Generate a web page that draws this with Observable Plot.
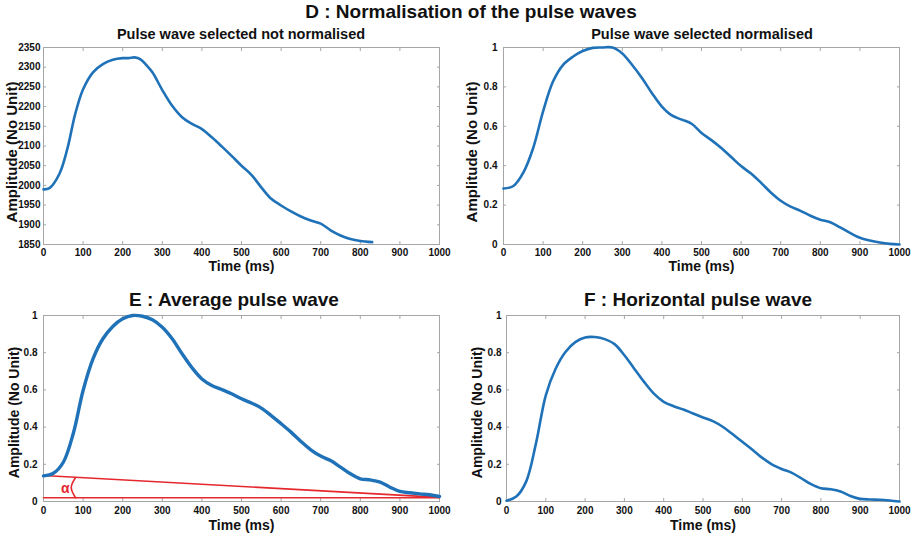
<!DOCTYPE html>
<html><head><meta charset="utf-8">
<script src="https://cdn.jsdelivr.net/npm/d3@7"></script>
<script src="https://cdn.jsdelivr.net/npm/@observablehq/plot@0.6"></script>
<style>
body{margin:0;background:#fff;}
#root{position:relative;width:922px;height:537px;overflow:hidden;font-family:"Liberation Sans",Arial,sans-serif;background:#fff;}
.t{position:absolute;font-weight:bold;color:#111;white-space:nowrap;transform:translateX(-50%);line-height:1;z-index:2;}
</style></head><body><div id="root"></div>
<script>
// ---- data ----
const xTicks = [0,100,200,300,400,500,600,700,800,900,1000];
const yTicksRaw = [1850,1900,1950,2000,2050,2100,2150,2200,2250,2300,2350];
const yTicksNorm = [0,0.2,0.4,0.6,0.8,1];

const rawT = [0,15,40,60,80,100,125,150,175,200,215,230,245,260,275,300,325,350,375,400,425,450,475,500,525,550,575,600,625,650,675,700,725,750,775,800,830];
const rawV = [1990,1993,2029,2092,2181,2244,2287,2308,2319,2323,2323,2325,2320,2305,2287,2242,2202,2173,2156,2143,2122,2099,2075,2050,2027,1995,1966,1949,1934,1921,1911,1903,1886,1873,1864,1859,1856];

const normT = [0,25,50,75,100,125,150,175,200,225,250,275,300,325,350,375,400,425,450,475,500,525,550,575,600,625,650,675,700,725,750,775,800,825,850,875,900,925,950,975,1000];
const normV = [0.284,0.297,0.365,0.49,0.676,0.827,0.911,0.953,0.982,0.998,1.0,1.0,0.97,0.911,0.844,0.768,0.70,0.655,0.634,0.613,0.566,0.53,0.49,0.444,0.398,0.36,0.314,0.264,0.222,0.192,0.171,0.146,0.126,0.113,0.087,0.059,0.034,0.02,0.01,0.003,0];

const avgT = normT;
const avgV = [0.138,0.152,0.211,0.364,0.597,0.767,0.875,0.941,0.982,1.0,0.996,0.977,0.937,0.875,0.794,0.719,0.659,0.624,0.602,0.579,0.552,0.53,0.502,0.462,0.418,0.373,0.323,0.278,0.244,0.22,0.185,0.149,0.122,0.116,0.104,0.077,0.054,0.047,0.041,0.036,0.027];

const horT = normT;
const horV = [0.004,0.027,0.107,0.3125,0.571,0.714,0.804,0.857,0.882,0.884,0.873,0.846,0.786,0.714,0.643,0.58,0.536,0.5125,0.495,0.473,0.452,0.432,0.402,0.3625,0.321,0.28,0.236,0.2,0.175,0.155,0.125,0.093,0.071,0.066,0.054,0.03,0.014,0.011,0.009,0.005,0];

const slopeT = [0,1000], slopeV = [0.14,0.022];
const baseT = [0,1000], baseV = [0.02,0.02];
const arcT = [81,70,81], arcV = [0.129,0.075,0.02];
const alphaT = [55], alphaV = [0.068], alphaLabel = ["α"];

// ---- helpers ----
const BLUE = "#1f72b8", RED = "#e5282d", GRID = "#a6a6a6";
const zip = (T, V) => T.map((t, i) => ({t, v: V[i]}));
const fmt = d => String(d);

function panel({data, yDomain, yTicks, left, top, width, height, mL, mR, mT, mB, lw, yLabelSize, yLabelDx, yLabelDy, xPad, yPad, timeDy, tickFont, extra = []}) {
  const marks = [
    Plot.frame({stroke: GRID}),
    Plot.axisX(xTicks, {anchor: "bottom", tickSize: -3, tickPadding: xPad, tickFormat: fmt, label: null, stroke: GRID, fill: "#111", fontSize: tickFont, fontWeight: "bold"}),
    Plot.axisX(xTicks, {anchor: "top", tickSize: -3, tickFormat: () => "", label: null, stroke: GRID}),
    Plot.axisY(yTicks, {anchor: "left", tickSize: -3, tickPadding: yPad, tickFormat: fmt, label: null, stroke: GRID, fill: "#111", fontSize: tickFont, fontWeight: "bold"}),
    Plot.axisY(yTicks, {anchor: "right", tickSize: -3, tickFormat: () => "", label: null, stroke: GRID}),
    ...extra,
    Plot.line(data, {x: "t", y: "v", stroke: BLUE, strokeWidth: lw, curve: "catmull-rom"}),
    Plot.text(["Time (ms)"], {frameAnchor: "bottom", lineAnchor: "middle", dy: timeDy, fontSize: 14, fontWeight: "bold", fill: "#111"}),
    Plot.text(["Amplitude (No Unit)"], {frameAnchor: "left", textAnchor: "middle", lineAnchor: "middle", rotate: -90, dx: yLabelDx, dy: yLabelDy, fontSize: yLabelSize, fontWeight: "bold", fill: "#111"})
  ];
  const svg = Plot.plot({
    width, height, marginLeft: mL, marginRight: mR, marginTop: mT, marginBottom: mB,
    x: {domain: [0, 1000]},
    y: {domain: yDomain},
    style: {fontFamily: "'Liberation Sans', Arial, sans-serif", overflow: "visible", background: "transparent"},
    marks
  });
  svg.style.position = "absolute";
  svg.style.left = left + "px";
  svg.style.top = top + "px";
  svg.style.background = "transparent";
  document.getElementById("root").appendChild(svg);
}

function title(text, cx, top, size) {
  const d = document.createElement("div");
  d.className = "t";
  d.textContent = text;
  d.style.left = cx + "px";
  d.style.top = top + "px";
  d.style.fontSize = size + "px";
  document.getElementById("root").appendChild(d);
}

panel({data: zip(rawT, rawV), yDomain: [1850, 2350], yTicks: yTicksRaw,
  left: 0, top: 40, width: 460, height: 240, mL: 43, mR: 21, mT: 7, mB: 36,
  lw: 2.6, yLabelSize: 15, yLabelDx: -31, yLabelDy: 6, xPad: 7, yPad: 6, timeDy: 22, tickFont: 10});

panel({data: zip(normT, normV), yDomain: [0, 1], yTicks: yTicksNorm,
  left: 460, top: 40, width: 462, height: 240, mL: 43, mR: 23, mT: 7, mB: 36,
  lw: 2.6, yLabelSize: 15, yLabelDx: -31, yLabelDy: 6, xPad: 7, yPad: 9, timeDy: 22, tickFont: 10});

panel({data: zip(avgT, avgV), yDomain: [0, 1], yTicks: yTicksNorm,
  left: 0, top: 308, width: 460, height: 229, mL: 43, mR: 21, mT: 7, mB: 36,
  lw: 3.4, yLabelSize: 14, yLabelDx: -29, yLabelDy: 4, xPad: 8.5, yPad: 9, timeDy: 24, tickFont: 10,
  extra: [
    Plot.line(zip(slopeT, slopeV), {x: "t", y: "v", stroke: RED, strokeWidth: 1.6}),
    Plot.line(zip(baseT, baseV), {x: "t", y: "v", stroke: RED, strokeWidth: 1.6}),
    Plot.line(zip(arcT, arcV), {x: "t", y: "v", stroke: RED, strokeWidth: 1.6, curve: "catmull-rom"}),
    Plot.text(alphaLabel.map((s, i) => ({s, t: alphaT[i], v: alphaV[i]})), {x: "t", y: "v", text: "s", fill: RED, fontSize: 14, fontWeight: "bold"})
  ]});

panel({data: zip(horT, horV), yDomain: [0, 1], yTicks: yTicksNorm,
  left: 460, top: 308, width: 462, height: 229, mL: 46, mR: 23, mT: 7, mB: 36,
  lw: 2.6, yLabelSize: 14, yLabelDx: -28.5, yLabelDy: 4, xPad: 8.5, yPad: 8, timeDy: 24, tickFont: 10});

title("D : Normalisation of the pulse waves", 471, 2, 19);
title("Pulse wave selected not normalised", 241, 27, 14.5);
title("Pulse wave selected normalised", 702, 27, 14.5);
title("E : Average pulse wave", 234, 290, 19);
title("F : Horizontal pulse wave", 698, 290, 19);
</script></body></html>
